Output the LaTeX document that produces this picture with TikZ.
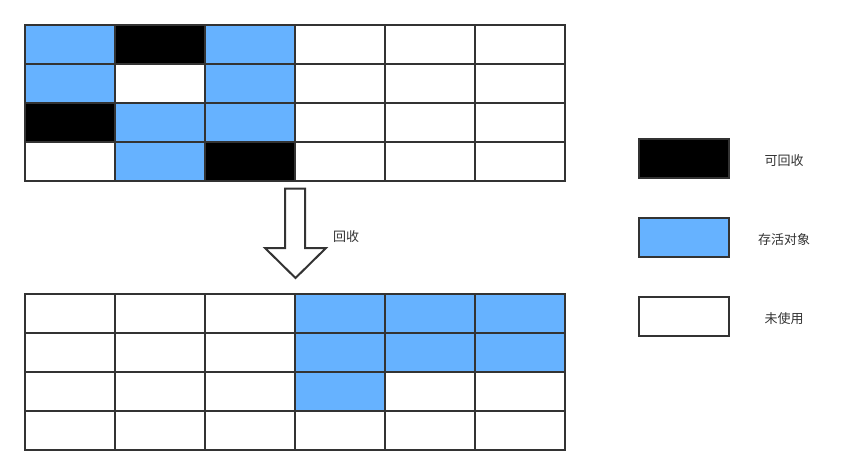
\documentclass[tikz,border=0pt]{standalone}
\usepackage{fontspec}
\newfontfamily\cjk{Noto Sans CJK SC}
\definecolor{edge}{HTML}{333333}
\definecolor{live}{HTML}{66B2FF}
\tikzset{
  cell/.style={draw=edge, line width=2pt, minimum width=90pt, minimum height=39pt, inner sep=0pt, outer sep=0pt, anchor=north west},
  B/.style={cell, fill=live},
  K/.style={cell, fill=black},
  W/.style={cell, fill=white},
  lbl/.style={font=\cjk\fontsize{13pt}{15pt}\selectfont, text=edge, inner sep=0pt},
}
\begin{document}
\begin{tikzpicture}[x=1pt,y=-1pt]
\useasboundingbox (0,0) rectangle (863,475);
% top grid
\foreach \row/\list in {0/{B,K,B,W,W,W},1/{B,W,B,W,W,W},2/{K,B,B,W,W,W},3/{W,B,K,W,W,W}}{
  \foreach \t [count=\c from 0] in \list {
    \node[\t] (t\row\c) at (25+90*\c, 25+39*\row) {};
  }
}
% bottom grid
\foreach \row/\list in {0/{W,W,W,B,B,B},1/{W,W,W,B,B,B},2/{W,W,W,B,W,W},3/{W,W,W,W,W,W}}{
  \foreach \t [count=\c from 0] in \list {
    \node[\t] (b\row\c) at (25+90*\c, 294+39*\row) {};
  }
}
% arrow
\draw[draw=edge, line width=2pt, fill=white, line join=miter]
  (285,188.5) -- (305,188.5) -- (305,248) -- (326,248) -- (295.5,278) -- (265,248) -- (285,248) -- cycle;
\node[lbl] (arrlbl) at (346,236.5) {回收};
% legend
\node[K] (lk) at (639,139) {};
\node[B] (lb) at (639,218) {};
\node[W] (lw) at (639,297) {};
\node[lbl] (lkt) at (784,160.5) {可回收};
\node[lbl] (lbt) at (784,239.5) {存活对象};
\node[lbl] (lwt) at (784,318.5) {未使用};
\end{tikzpicture}
\end{document}
